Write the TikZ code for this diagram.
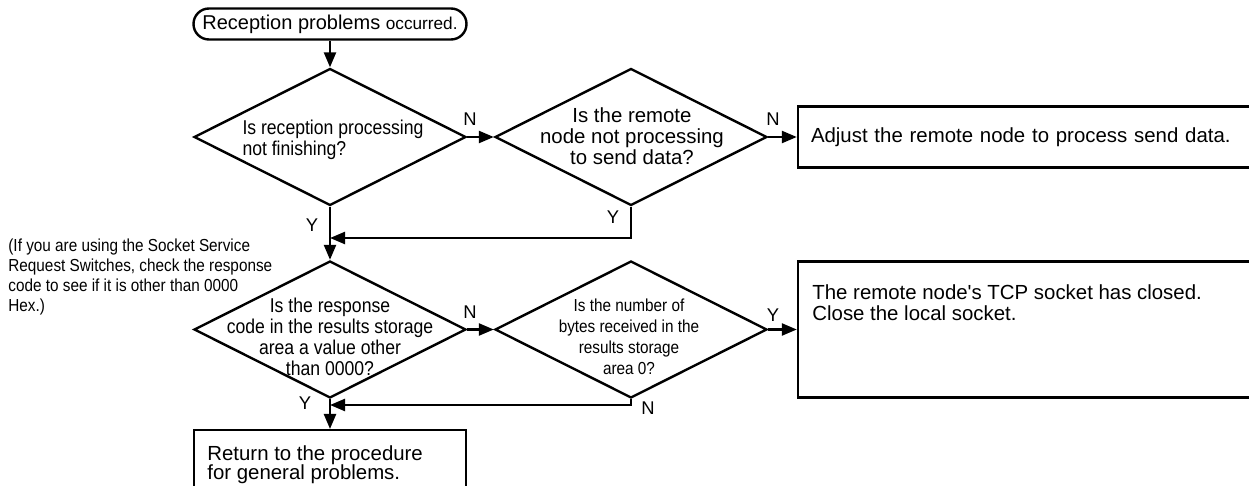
\documentclass[tikz,border=0pt]{standalone}
\usepackage{fontspec}
\setmainfont{Liberation Sans}
\newfontfamily\condfont[FakeStretch=0.88]{Liberation Sans}
\usetikzlibrary{shapes.geometric, arrows.meta}

\tikzset{
    decision/.style={diamond, draw, line width=1.2pt, minimum width=136pt, minimum height=68.5pt, inner sep=0pt},
    dtext/.style={align=center, inner sep=0pt, font=\fontsize{10.2}{10.5}\selectfont},
    dcond/.style={align=center, inner sep=0pt, font=\condfont\fontsize{10}{10.5}\selectfont},
    dsmall/.style={align=center, inner sep=0pt, font=\condfont\fontsize{8.7}{10.5}\selectfont},
    procbox/.style={rectangle, draw, line width=1.2pt, minimum width=231pt, inner sep=0pt},
    boxtext/.style={align=left, inner sep=0pt, anchor=north west, font=\fontsize{10.2}{10.5}\selectfont},
    terminal/.style={rectangle, rounded corners=7.75pt, draw, line width=1.2pt, minimum width=136.5pt, minimum height=15.5pt, inner sep=0pt},
    yn/.style={inner sep=0pt, font=\fontsize{9.2}{10}\selectfont},
    flow/.style={->, line width=1.2pt}
}

\begin{document}
\begin{tikzpicture}[x=0.5pt, y=-0.5pt, >={Triangle[length=7.5pt,width=6pt]}]
    \useasboundingbox (0,0) rectangle (1249,486);
    \clip (0,0) rectangle (1249,486);

    % Start
    \node[terminal] (start) at (330,24) {\fontsize{10}{10}\selectfont Reception problems {\fontsize{8.6}{10}\selectfont occurred.}};

    % First row: two decisions and one action
    \node[decision] (recv) at (330,137) {};
    \node[dcond, align=left] (recvtxt) at (333,140) {Is reception processing\\not finishing?};
    \node[decision] (send) at (631,137) {};
    \node[dtext] (sendtxt) at (632,136) {Is the remote\\node not processing\\to send data?};
    \node[procbox, minimum height=30.5pt, text width=218pt, inner xsep=6.5pt, align=left, font=\fontsize{10.2}{10.5}\selectfont] (adjust) at (1029,137) {Adjust the remote node to process send data.};

    % Second row
    \node[decision] (resp) at (330,329.5) {};
    \node[dcond] (resptxt) at (330,336.5) {Is the response\\code in the results storage\\area a value other\\than 0000?};
    \node[decision] (bytes) at (631,329.5) {};
    \node[dsmall] (bytestxt) at (629,337) {Is the number of\\bytes received in the\\results storage\\area 0?};
    \node[procbox, minimum height=68pt] (close) at (1029,329.5) {};
    \node[boxtext] (closetxt) at (812,284.5) {The remote node\textquotesingle s TCP socket has closed.\\Close the local socket.};

    % Return box (cut by the page edge)
    \node[procbox, minimum width=136pt, minimum height=40pt, anchor=north] (ret) at (330,429) {};
    \node[boxtext, font=\fontsize{10.2}{9.6}\selectfont] (rettxt) at (207,445.5) {Return to the procedure\\for general problems.};

    % Side note
    \node[anchor=north west, align=left, inner sep=0pt, font=\condfont\fontsize{8.7}{10}\selectfont] (note) at (8,238) {(If you are using the Socket Service\\Request Switches, check the response\\code to see if it is other than 0000\\Hex.)};

    % Merge points
    \coordinate (m1) at (330,238);
    \coordinate (m2) at (330,405);

    % Connectors
    \draw[flow] (start) -- (recv);
    \draw[flow] (recv) -- (send);
    \draw[flow] (send) -- (adjust);
    \draw[flow] (recv) -- (resp);
    \draw[flow] (send.south) |- (m1);
    \draw[flow] (resp) -- (bytes);
    \draw[flow] (bytes) -- (close);
    \draw[flow] (bytes.south) |- (m2);
    \draw[flow] (resp) -- (ret);

    % Y / N labels
    \node[yn] (n1) at (470,119) {N};
    \node[yn] (n2) at (773,119) {N};
    \node[yn] (y1) at (312,225) {Y};
    \node[yn] (y2) at (613,217) {Y};
    \node[yn] (n3) at (470,312) {N};
    \node[yn] (y3) at (773,315) {Y};
    \node[yn] (n4) at (648,408) {N};
    \node[yn] (y4) at (305,403) {Y};
\end{tikzpicture}
\end{document}
